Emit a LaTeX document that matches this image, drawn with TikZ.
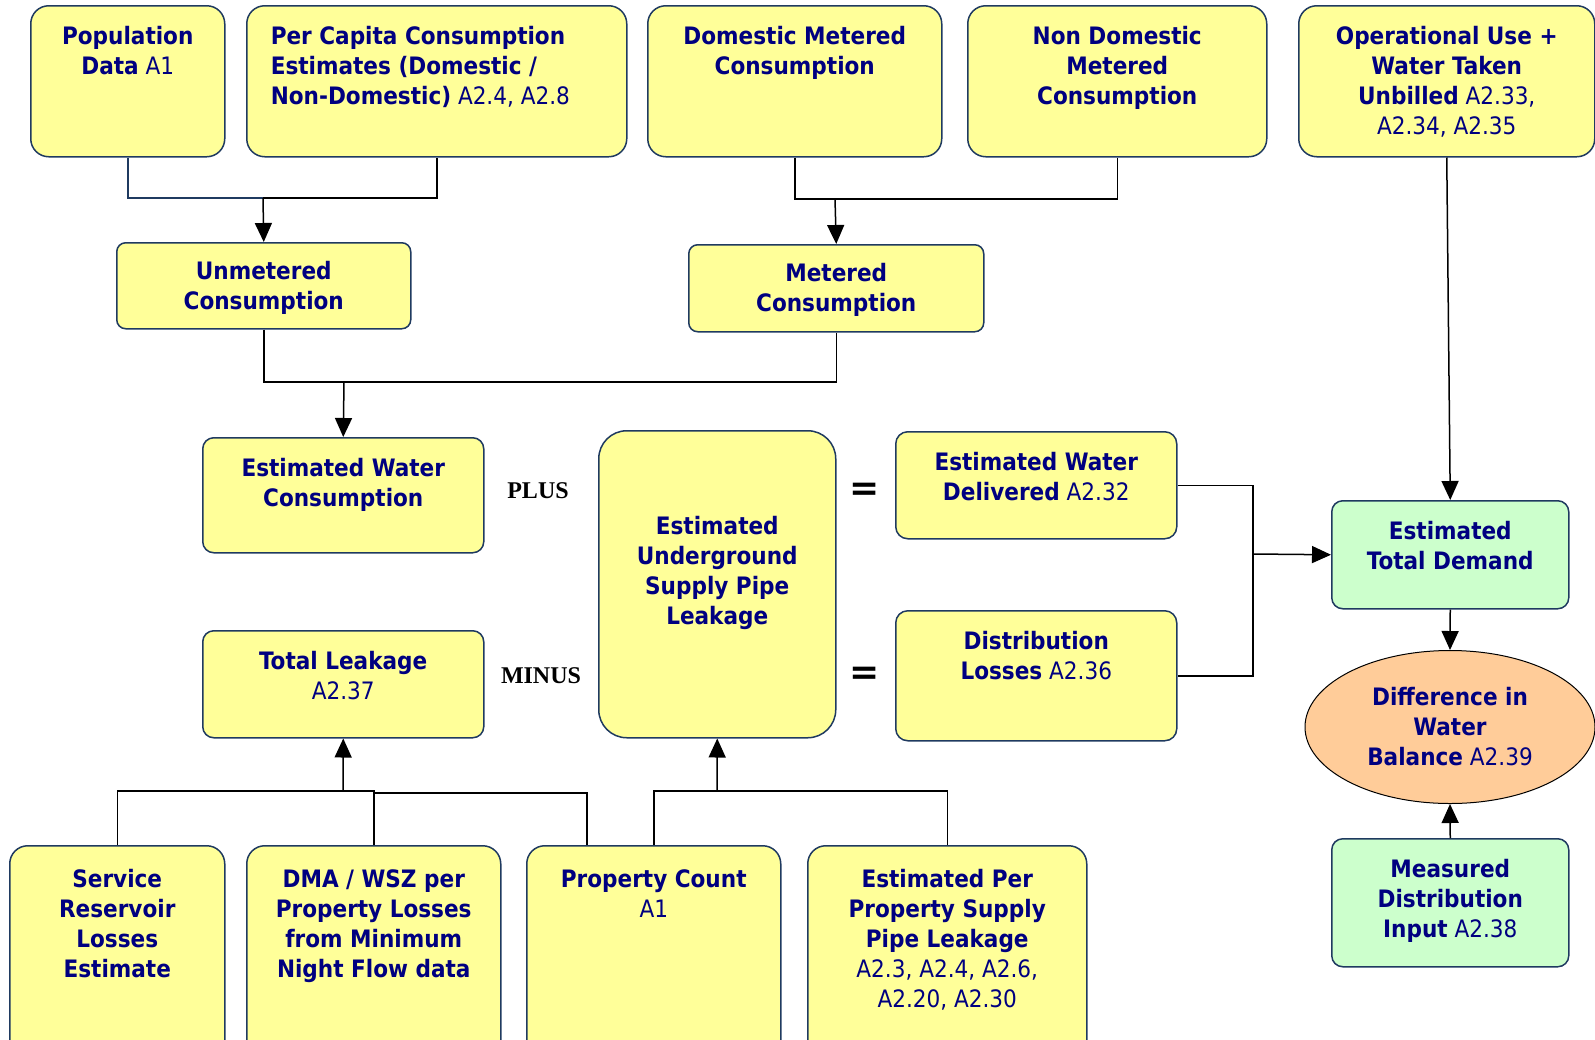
\documentclass[tikz,border=0pt]{standalone}
\usepackage{fontspec}
\setmainfont{DejaVu Sans Condensed}
\newfontfamily\opfont{Liberation Serif}
\newfontfamily\eqfont{DejaVu Sans}
\usetikzlibrary{arrows.meta,shapes.geometric}
\definecolor{navytext}{HTML}{000080}
\definecolor{boxyellow}{HTML}{FFFF99}
\definecolor{boxgreen}{HTML}{CCFFCC}
\definecolor{boxorange}{HTML}{FFCC99}
\definecolor{boxedge}{HTML}{1F3A60}
% text block hung from the top of a box: [first baseline]{width}{height}{text}
\newcommand{\toptext}[4][39pt]{\parbox[c][#3][t]{#2}{\centering\rule{0pt}{#1}#4}}

\begin{document}
\begin{tikzpicture}[x=1pt, y=-1pt, line width=1.5pt,
  box/.style={draw=boxedge, fill=boxyellow, rounded corners=18pt, inner sep=0pt, anchor=north west, text=navytext, font=\fontsize{24}{30}\selectfont},
  sbox/.style={box, rounded corners=9pt},
  gbox/.style={box, fill=boxgreen, rounded corners=11pt},
  op/.style={font=\opfont\bfseries\fontsize{24}{28}\selectfont},
  eq/.style={font=\eqfont\bfseries\fontsize{36}{40}\selectfont},
  arr/.style={-{Triangle[length=19pt,width=17pt]}}]
\useasboundingbox (0,0) rectangle (1595,1039);

% top row
\node[box] (pop) at (30,5) {\toptext{194pt}{151pt}{\textbf{Population}\\\textbf{Data} A1}};
\node[box] (pcc) at (246,5) {\toptext{380pt}{151pt}{\raggedright\leftskip=24pt\relax\textbf{Per Capita Consumption}\\\textbf{Estimates (Domestic /}\\\textbf{Non-Domestic)} A2.4, A2.8}};
\node[box] (dom) at (647,5) {\toptext{294pt}{151pt}{\textbf{Domestic Metered}\\\textbf{Consumption}}};
\node[box] (ndom) at (967,5) {\toptext{299pt}{151pt}{\textbf{Non Domestic}\\\textbf{Metered}\\\textbf{Consumption}}};
\node[box] (ops) at (1298,5) {\toptext{296pt}{151pt}{\textbf{Operational Use +}\\\textbf{Water Taken}\\\textbf{Unbilled} A2.33,\\A2.34, A2.35}};

% consumption
\node[sbox] (unm) at (116,242) {\toptext[37pt]{294pt}{86pt}{\textbf{Unmetered}\\\textbf{Consumption}}};
\node[sbox] (met) at (688,244) {\toptext[37pt]{295pt}{87pt}{\textbf{Metered}\\\textbf{Consumption}}};
\node[box, rounded corners=11pt] (ewc) at (202,437) {\toptext{281pt}{115pt}{\textbf{Estimated Water}\\\textbf{Consumption}}};
\node[box, rounded corners=11pt] (tlk) at (202,630) {\toptext{281pt}{107pt}{\textbf{Total Leakage}\\A2.37}};
\node[box, rounded corners=28pt] (usp) at (598,430) {\toptext[104pt]{237pt}{307pt}{\textbf{Estimated}\\\textbf{Underground}\\\textbf{Supply Pipe}\\\textbf{Leakage}}};
\node[box, rounded corners=12pt] (ewd) at (895,431) {\toptext{281pt}{107pt}{\textbf{Estimated Water}\\\textbf{Delivered} A2.32}};
\node[box, rounded corners=12pt] (dls) at (895,610) {\toptext{281pt}{130pt}{\textbf{Distribution}\\\textbf{Losses} A2.36}};

\node[op] (plus) at (538,491) {PLUS};
\node[op] (minus) at (541,676) {MINUS};
\node[eq] (eqa) at (865,492) {=};
\node[eq] (eqb) at (865,676) {=};

% demand and balance
\node[gbox] (etd) at (1331,500) {\toptext{237pt}{108pt}{\textbf{Estimated}\\\textbf{Total Demand}}};
\node[ellipse, draw=black, fill=boxorange, line width=1pt, minimum width=290pt, minimum height=153pt, inner sep=0pt, align=center, text=navytext, font=\fontsize{24}{30}\selectfont] (dwb) at (1450,727) {\textbf{Difference in}\\\textbf{Water}\\\textbf{Balance} A2.39};
\node[gbox] (mdi) at (1331,838) {\toptext{237pt}{128pt}{\textbf{Measured}\\\textbf{Distribution}\\\textbf{Input} A2.38}};

% bottom row
\node[box] (srl) at (9,845) {\toptext[42pt]{215pt}{225pt}{\textbf{Service}\\\textbf{Reservoir}\\\textbf{Losses}\\\textbf{Estimate}}};
\node[box] (dma) at (246,845) {\toptext[42pt]{254pt}{225pt}{\textbf{DMA / WSZ per}\\\textbf{Property Losses}\\\textbf{from Minimum}\\\textbf{Night Flow data}}};
\node[box] (prc) at (526,845) {\toptext[42pt]{254pt}{225pt}{\textbf{Property Count}\\A1}};
\node[box] (epp) at (807,845) {\toptext[42pt]{279pt}{225pt}{\textbf{Estimated Per}\\\textbf{Property Supply}\\\textbf{Pipe Leakage}\\A2.3, A2.4, A2.6,\\A2.20, A2.30}};

% joins
\coordinate (ja) at (263,198);
\coordinate (jb) at (835,199);
\coordinate (jc) at (344,382);
\coordinate (jd) at (1253,554);
\coordinate (je) at (343,791);
\coordinate (jf) at (717,791);
\coordinate (prcl) at (587,845);

\draw[boxedge] (pop.south) |- (ja);
\draw (ja) -| (pcc.south);
\draw[arr] (ja) -- (unm.north);
\draw (dom.south) |- (jb) -| (ndom.south);
\draw[arr] (jb) -- (met.north);
\draw (unm.south) |- (jc) -| (met.south);
\draw[arr] (jc) -- (ewc.north);
\draw (ewd.east) -| (jd) |- (dls.east);
\draw[arr] (jd) -- (etd.west);
\draw[arr] (ops.south) -- (etd.north);
\draw[arr] (etd.south) -- (dwb.north);
\draw[arr] (mdi.north) -- (dwb.south);
\draw (srl.north) |- (je) -| (dma.north);
\draw (dma.north) |- (prcl |- 0,793) -- (prcl);
\draw[arr] (je) -- (tlk.south);
\draw (prc.north) |- (jf) -| (epp.north);
\draw[arr] (jf) -- (usp.south);
\end{tikzpicture}
\end{document}
